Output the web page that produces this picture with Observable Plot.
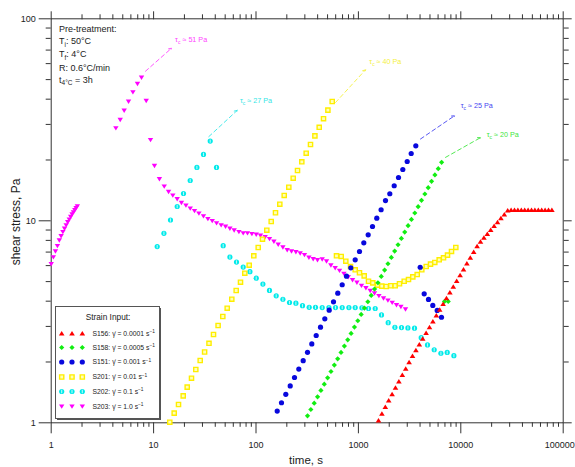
<!DOCTYPE html>
<html><head><meta charset="utf-8">
<script src="https://cdn.jsdelivr.net/npm/d3@7"></script>
<script src="https://cdn.jsdelivr.net/npm/@observablehq/plot@0.6"></script>
<style>html,body{margin:0;padding:0;background:#fff}svg{display:block}</style>
</head><body><div id="chart"></div>
<script>
// ---------- DATA (time in s, shear stress in Pa) ----------
const seriesNames = ["S156","S158","S151","S201","S202","S203"];
const legendLabels = ["0.0001","0.0005","0.001","0.01","0.1","1.0"];

const t203 = [1.00,1.05,1.10,1.15,1.20,1.25,1.30,1.35,1.40,1.45,1.50,1.55,1.60,1.65,1.70,1.75,1.80,
  4.28,4.72,5.16,5.69,6.28,6.96,7.62,8.47,9.33,10.2,
  11.4,12.7,14.0,15.4,17.0,18.7,20.7,22.8,25.1,27.7,30.7,33.9,37.4,41.2,45.7,50.4,55.6,61.2,68.1,75.0,
  82.6,91.2,100.5,110.6,122.9,135.4,149.5,164.8,183.1,201.7,222.2,245.2,270.2,297.6,328.6,361.9,398.6,
  443.1,488.1,538.8,593.5,653.9,721.9,795.3,876,967,1072,1184,1304,1436,1586,1758,1942,2139,2356,2600,2884];
const v203 = [6.1,6.6,7.05,7.5,8.0,8.4,8.8,9.15,9.5,9.85,10.15,10.45,10.75,11.0,11.3,11.55,11.8,
  28.7,31.6,35.1,38.9,43.3,47.6,51.1,39.2,25.1,18.7,
  16.07,14.78,13.90,13.34,12.79,12.26,11.90,11.50,11.18,10.86,10.53,10.21,9.98,9.72,9.50,9.36,9.15,8.97,8.80,8.67,
  8.67,8.60,8.54,8.44,8.31,8.12,7.88,7.62,7.39,7.16,7.06,7.00,6.90,6.77,6.57,6.46,6.39,
  6.44,6.30,6.01,5.83,5.66,5.47,5.26,5.08,4.94,4.77,4.64,4.50,4.37,4.24,4.13,4.03,3.93,3.82,3.75,3.64];

const t202 = [10.84,12.61,14.62,17.0,19.59,22.78,26.48,30.71,35.71,41.15,
  47.83,55.61,64.5,74.99,87.2,100.5,116.8,135.4,157.5,183.1,212.4,245.2,284.5,330.8,381.1,443.1,515.1,597.5,
  694.7,807.8,930.6,1082,1255,1459,1681,1954,2272,2636,3044,3531,4106,4730,5498,6393,7366,8563];
const v202 = [7.45,8.67,10.09,11.77,13.65,15.83,18.37,21.31,24.80,18.37,
  7.53,6.61,6.25,5.90,5.60,5.20,4.86,4.52,4.25,4.09,3.94,3.91,3.80,3.73,3.73,3.72,3.72,3.72,
  3.72,3.72,3.72,3.71,3.68,3.68,3.42,3.13,2.97,2.96,2.95,2.94,2.64,2.43,2.30,2.21,2.23,2.15];

const t201 = [14.39,15.89,17.51,19.46,21.29,23.45,25.83,28.52,31.48,34.75,38.46,42.65,47.40,52.34,58.03,64.06,
  70.57,77.73,85.83,95.17,105.1,115.7,127.5,140.8,155.0,170.8,188.6,209.1,230.8,254.3,280.1,309.2,340.6,376.1,
  414.3,456.3,503.7,554.8,
  611.0,679.2,753.4,837.4,930.6,1025,1139,1255,1382,1537,1692,1868,2072,2288,2520,2801,3085,3399,3752,4160,
  4593,5060,5574,6153,6779,7416,8114,8939];
const v201 = [1.007,1.116,1.232,1.360,1.501,1.663,1.836,2.034,2.241,2.475,2.736,3.031,3.359,3.692,4.091,4.519,
  4.966,5.503,6.029,6.710,7.375,8.108,8.984,9.92,10.96,12.08,13.35,14.67,16.25,17.74,19.59,21.61,23.86,26.33,
  29.03,32.03,35.32,38.96,
  6.71,6.66,6.31,5.94,5.72,5.53,5.34,5.02,4.93,4.80,4.75,4.73,4.77,4.77,4.88,5.02,5.12,5.28,5.42,5.72,
  5.94,6.10,6.22,6.41,6.56,6.76,7.05,7.38];

const t151 = [161.1,177.4,195.4,215.8,237.7,261.8,289.0,318.4,350.7,387.1,426.5,469.8,518.6,571.2,629.1,694.7,
  765.2,843.0,930.6,1025,1129,1246,1373,1512,1666,1839,2026,2237,2464,2714,2996,3278,3635,
  4012,4391,4836,5328,5883,6478];
const v151 = [1.143,1.257,1.384,1.522,1.676,1.845,2.030,2.234,2.458,2.705,2.973,3.273,3.610,3.972,4.381,4.823,
  5.317,5.852,6.412,7.047,7.782,8.525,9.371,10.30,11.34,12.60,13.61,14.91,16.38,17.95,19.66,21.54,23.51,
  5.89,4.35,4.08,3.81,3.60,3.33];

const t158 = [318.4,343.3,370.2,399.2,430.5,464.2,500.5,539.7,582.0,627.6,676.7,729.7,786.8,848.5,914.9,986.6,
  1064,1147,1237,1334,1438,1551,1672,1803,1944,2097,2261,2438,2629,2835,3057,3296,3554,3833,4133,4457,4806,
  5182,5588,6026,6498, 6931,7534];
const v158 = [1.083,1.164,1.251,1.345,1.446,1.554,1.670,1.795,1.930,2.074,2.230,2.397,2.576,2.769,2.977,3.200,
  3.439,3.697,3.974,4.272,4.592,4.936,5.305,5.703,6.130,6.589,7.083,7.613,8.184,8.797,9.455,10.16,10.93,11.75,
  12.63,13.57,14.59,15.68,16.86,18.12,19.48, 3.99,3.99];

const t156 = [1571,1696,1831,1977,2134,2303,2486,2684,2897,3127,3376,3644,3933,4246,4583,4947,5340,5764,6222,
  6716,7250,7826,8448,9120,9844,10626,11470,12381,13366,14427,15573,16810,18146,19588,21144,22824,24637,26595,
  28708, 30989,33452,36109,38978,42075,45418,49026,52921,57126,61660,66560,71850,77560];
const v156 = [1.027,1.109,1.199,1.291,1.388,1.492,1.605,1.724,1.855,1.995,2.142,2.288,2.444,2.611,2.786,2.977,
  3.180,3.398,3.630,3.874,4.139,4.421,4.724,5.047,5.384,5.753,6.146,6.568,7.015,7.495,7.880,8.248,8.623,9.015,
  9.425,9.854,10.30,10.77,11.25, 11.31,11.31,11.31,11.31,11.31,11.31,11.31,11.31,11.31,11.31,11.31,11.31,11.31];

// yield-stress annotations (dashed arrows + labels)
const arrowT1 = [8.33, 34.6, 597.6, 4040, 7089];
const arrowV1 = [55.0, 26.1, 38.5, 25.4, 20.6];
const arrowT2 = [14.96, 65.5, 1173, 8679, 15573];
const arrowV2 = [71.5, 35.2, 55.9, 33.1, 25.8];
const tauValues = ["51","27","40","25","20"];
const tauT = [16.4, 70.6, 1292, 10090, 18100];
const tauV = [78.7, 39.1, 61.0, 37.2, 26.7];

// axis ticks
const majorX = [1,10,100,1000,10000,100000];
const majorY = [1,10,100];
const minorX = [], minorY = [];
for (const d of [1,10,100,1000,10000]) for (let k = 2; k <= 9; k++) minorX.push(d*k);
for (const d of [1,10]) for (let k = 2; k <= 9; k++) minorY.push(d*k);

// ---------- STYLE ----------
const FONT = '"Liberation Sans", Arial, Helvetica, sans-serif';
const C = {red:"#ff0000", green:"#11ee11", blue:"#0808dd", yellow:"#ffee00", cyan:"#00eaea", magenta:"#ff00ff"};
const arrowColors = ["#ff44ff","#33e6e6","#f4f040","#4646f0","#3ee63e"];

const triDown = {draw(c){c.moveTo(0,2.3);c.lineTo(-2.7,-2.1);c.lineTo(2.7,-2.1);c.closePath();}};
const triUp   = {draw(c){c.moveTo(0,-2.4);c.lineTo(2.8,2.1);c.lineTo(-2.8,2.1);c.closePath();}};
const circ    = {draw(c){c.moveTo(2.6,0);c.arc(0,0,2.6,0,2*Math.PI);}};
const sq      = {draw(c){c.rect(-2.1,-2.1,4.2,4.2);}};
const dia     = {draw(c){c.moveTo(0,-2.6);c.lineTo(2.6,0);c.lineTo(0,2.6);c.lineTo(-2.6,0);c.closePath();}};
const bar     = {draw(c){c.rect(-0.55,-1.7,1.1,3.4);}};

const pts = (t, v) => t.map((d, i) => ({t: d, v: v[i]}));
const arrows = arrowT1.map((d, i) => ({x1: d, y1: arrowV1[i], x2: arrowT2[i], y2: arrowV2[i], c: arrowColors[i]}));

const chart = Plot.plot({
  width: 575, height: 467,
  marginLeft: 50.7, marginRight: 12.3, marginTop: 18.3, marginBottom: 44.7,
  style: {fontFamily: FONT, fontSize: "9px", color: "#222", background: "#fff"},
  x: {type: "log", domain: [1, 100000]},
  y: {type: "log", domain: [1, 100]},
  marks: [
    Plot.axisX({ticks: majorX, anchor: "bottom", tickSize: 11, tickPadding: 8, tickFormat: d => String(d), label: null, stroke: "#333"}),
    Plot.axisX({ticks: minorX, anchor: "bottom", tickSize: 4.5, tickFormat: () => "", label: null, stroke: "#333"}),
    Plot.axisX({ticks: majorX, anchor: "top", tickSize: 8, tickFormat: () => "", label: null, stroke: "#333"}),
    Plot.axisX({ticks: minorX, anchor: "top", tickSize: 5, tickFormat: () => "", label: null, stroke: "#333"}),
    Plot.axisY({ticks: majorY, anchor: "left", tickSize: 12, tickPadding: 3.5, tickFormat: d => String(d), label: null, stroke: "#333"}),
    Plot.axisY({ticks: minorY, anchor: "left", tickSize: 5, tickFormat: () => "", label: null, stroke: "#333"}),
    Plot.axisY({ticks: majorY, anchor: "right", tickSize: 8, tickFormat: () => "", label: null, stroke: "#333"}),
    Plot.axisY({ticks: minorY, anchor: "right", tickSize: 5, tickFormat: () => "", label: null, stroke: "#333"}),
    Plot.frame({stroke: "#333"}),
    Plot.arrow(arrows, {x1: "x1", y1: "y1", x2: "x2", y2: "y2", stroke: "c", strokeWidth: 0.9, strokeDasharray: "4,3", headLength: 5, bend: 0}),
    Plot.dot(pts(t202, v202), {x: "t", y: "v", symbol: circ, r: 3, fill: C.cyan, stroke: "none"}),
    Plot.dot(pts(t202, v202), {x: "t", y: "v", symbol: bar, r: 3, fill: "#ffffff", fillOpacity: 0.7, stroke: "none"}),
    Plot.dot(pts(t203, v203), {x: "t", y: "v", symbol: triDown, r: 3, fill: C.magenta, stroke: "none"}),
    Plot.dot(pts(t201, v201), {x: "t", y: "v", symbol: sq, r: 3, fill: "#ffffb8", stroke: C.yellow, strokeWidth: 1.4}),
    Plot.dot(pts(t151, v151), {x: "t", y: "v", symbol: circ, r: 3, fill: C.blue, stroke: "none"}),
    Plot.dot(pts(t158, v158), {x: "t", y: "v", symbol: dia, r: 3, fill: C.green, stroke: "none"}),
    Plot.dot(pts(t156, v156), {x: "t", y: "v", symbol: triUp, r: 3, fill: C.red, stroke: "none"})
  ]
});
document.getElementById("chart").appendChild(chart);

// ---------- ANNOTATIONS ----------
const svg = d3.select(chart);
// keep the last x tick label inside the picture
svg.selectAll("text").filter(function () { return this.textContent === "100000"; }).attr("dx", -3.5);

const sx = chart.scale("x"), sy = chart.scale("y");
const g = svg.append("g").attr("font-family", FONT).attr("text-anchor", "start");

// axis titles
g.append("text").attr("x", 306).attr("y", 464).attr("text-anchor", "middle")
  .attr("font-size", "11.5px").attr("fill", "#222").text("time, s");
g.append("text").attr("transform", "translate(16,222) rotate(-90)").attr("text-anchor", "middle")
  .attr("dy", "0.35em").attr("font-size", "12px").attr("fill", "#222").text("shear stress, Pa");

// tau labels
tauValues.forEach((val, i) => {
  const t = g.append("text").attr("x", sx.apply(tauT[i])).attr("y", sy.apply(tauV[i]))
    .attr("dy", "0.35em").attr("fill", arrowColors[i]).attr("font-size", "7.2px");
  t.append("tspan").text("τ");
  t.append("tspan").attr("dy", 2).attr("font-size", "5px").text("c");
  t.append("tspan").attr("dy", -2).text(" ≈ " + val + " Pa");
});

// pre-treatment note
const note = g.append("g").attr("font-size", "9px").attr("fill", "#222");
note.append("text").attr("x", 59).attr("y", 32).text("Pre-treatment:");
const n1 = note.append("text").attr("x", 59).attr("y", 44);
n1.append("tspan").text("T"); n1.append("tspan").attr("dy", 2.5).attr("font-size", "6.5px").text("i");
n1.append("tspan").attr("dy", -2.5).text(": 50°C");
const n2 = note.append("text").attr("x", 59).attr("y", 57);
n2.append("tspan").text("T"); n2.append("tspan").attr("dy", 2.5).attr("font-size", "6.5px").text("f");
n2.append("tspan").attr("dy", -2.5).text(": 4°C");
note.append("text").attr("x", 59).attr("y", 70.5).text("R: 0.6°C/min");
const n4 = note.append("text").attr("x", 59).attr("y", 82.5);
n4.append("tspan").text("t"); n4.append("tspan").attr("dy", 2.5).attr("font-size", "6.5px").text("4°C");
n4.append("tspan").attr("dy", -2.5).text(" = 3h");

// legend
const L = g.append("g");
L.append("rect").attr("x", 57).attr("y", 308).attr("width", 104).attr("height", 112).attr("fill", "#555");
L.append("rect").attr("x", 55.5).attr("y", 306.5).attr("width", 104).attr("height", 112)
  .attr("fill", "#fff").attr("stroke", "#555").attr("stroke-width", 1);
L.append("text").attr("x", 108).attr("y", 320).attr("text-anchor", "middle").attr("font-size", "8.3px")
  .attr("fill", "#222").text("Strain Input:");
const legSyms = [
  {sym: triUp, fill: C.red},
  {sym: dia, fill: C.green},
  {sym: circ, fill: C.blue},
  {sym: sq, fill: "#ffffb8", stroke: C.yellow},
  {sym: circ, fill: C.cyan, extra: bar},
  {sym: triDown, fill: C.magenta}
];
const rowY = [333.3, 347.5, 362, 377, 391.5, 406.5];
legSyms.forEach((s, i) => {
  [61.7, 72, 82.3].forEach(x => {
    L.append("path").attr("d", d3.symbol().type(s.sym)()).attr("transform", `translate(${x},${rowY[i]})`)
      .attr("fill", s.fill).attr("stroke", s.stroke || "none").attr("stroke-width", 1.4);
    if (s.extra) L.append("path").attr("d", d3.symbol().type(s.extra)()).attr("transform", `translate(${x},${rowY[i]})`)
      .attr("fill", "#fff").attr("fill-opacity", 0.7);
  });
  const tx = L.append("text").attr("x", 92.5).attr("y", rowY[i]).attr("dy", "0.35em")
    .attr("font-size", "6.8px").attr("fill", "#222");
  tx.append("tspan").text(seriesNames[i] + ": γ̇ = " + legendLabels[i] + " s");
  tx.append("tspan").attr("dy", -2.5).attr("font-size", "4.8px").text("−1");
});
</script>
</body></html>
